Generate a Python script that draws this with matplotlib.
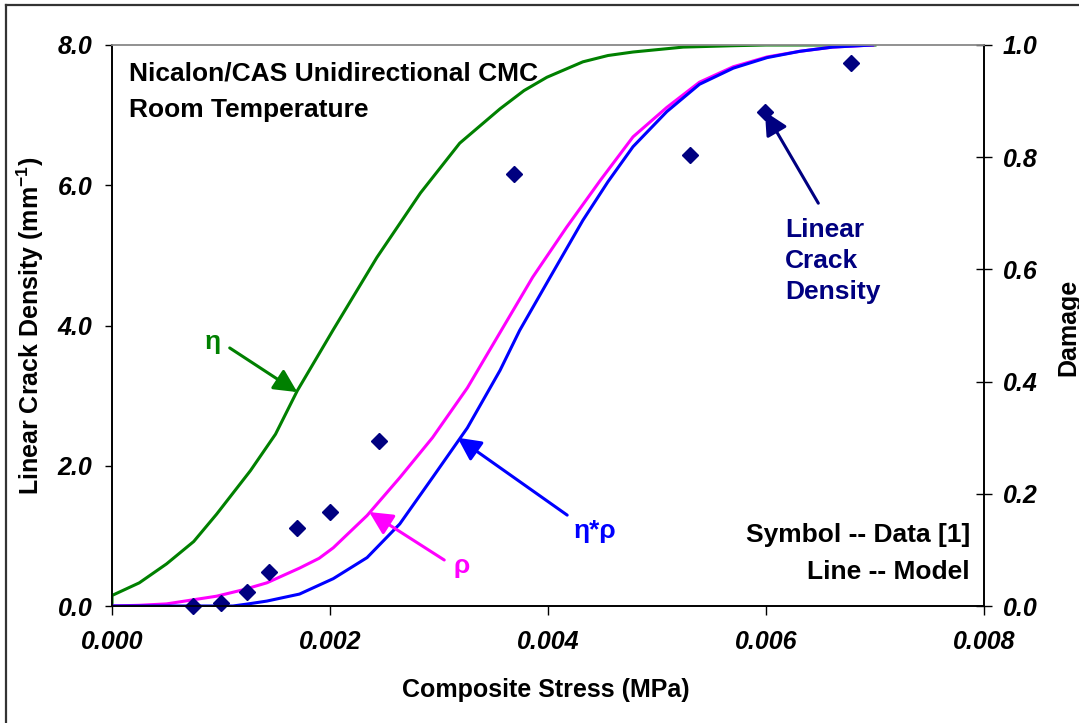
"""Crack density and damage vs composite stress, Nicalon/CAS unidirectional CMC."""
import matplotlib
matplotlib.use('Agg')
import matplotlib.pyplot as plt
from matplotlib.lines import Line2D

FONT = 'Liberation Sans'
plt.rcParams['mathtext.default'] = 'regular'

# measured data (symbols)
data_stress = [0.00074, 0.00100, 0.00124, 0.00144, 0.00170, 0.00200,
               0.00245, 0.00369, 0.00530, 0.00599, 0.00678]
data_density = [0.00, 0.04, 0.20, 0.48, 1.11, 1.34, 2.35, 6.16, 6.43, 7.05, 7.75]

# model curves, plotted on the crack density scale (8.0 <-> damage 1.0)
eta_stress = [0.0, 0.0, 0.00025, 0.00050, 0.00075, 0.00096, 0.00127, 0.00150,
              0.00170, 0.00203, 0.00243, 0.00283, 0.00319, 0.00356, 0.00378,
              0.00399, 0.00432, 0.00455, 0.00478, 0.00524, 0.00570, 0.00600,
              0.00631, 0.00700]
eta_value = [0.0, 0.15, 0.33, 0.60, 0.92, 1.31, 1.93, 2.45, 3.07, 3.94, 4.97,
             5.89, 6.60, 7.09, 7.35, 7.54, 7.76, 7.85, 7.90, 7.97, 7.99, 8.00,
             8.00, 8.00]

rho_stress = [0.0, 0.00025, 0.00050, 0.00096, 0.00120, 0.00142, 0.00172,
              0.00190, 0.00203, 0.00234, 0.00264, 0.00294, 0.00326, 0.00356,
              0.00386, 0.00417, 0.00448, 0.00478, 0.00509, 0.00539, 0.00570,
              0.00601, 0.00631, 0.00661, 0.00698]
rho_value = [0.0, 0.01, 0.03, 0.14, 0.23, 0.33, 0.54, 0.68, 0.83, 1.29, 1.83,
             2.40, 3.11, 3.90, 4.69, 5.40, 6.07, 6.69, 7.11, 7.47, 7.69, 7.83,
             7.91, 7.97, 8.00]

etarho_stress = [0.0, 0.00060, 0.00111, 0.00125, 0.00142, 0.00172, 0.00203,
                 0.00234, 0.00264, 0.00294, 0.00326, 0.00356, 0.00374, 0.00402,
                 0.00432, 0.00455, 0.00478, 0.00509, 0.00539, 0.00570, 0.00601,
                 0.00631, 0.00661, 0.00698]
etarho_value = [0.0, 0.0, 0.0, 0.03, 0.07, 0.17, 0.39, 0.69, 1.17, 1.83, 2.54,
                3.36, 3.93, 4.69, 5.50, 6.05, 6.55, 7.05, 7.44, 7.67, 7.82,
                7.91, 7.97, 8.00]

x_ticks = [0.000, 0.002, 0.004, 0.006, 0.008]
left_ticks = [0.0, 2.0, 4.0, 6.0, 8.0]
right_ticks = [0.0, 0.2, 0.4, 0.6, 0.8, 1.0]

GREEN = '#008000'
MAGENTA = '#FF00FF'
BLUE = '#0000FF'
NAVY = '#000080'

W, H = 1079, 723


def main() -> None:
    fig = plt.figure(figsize=(W / 100, H / 100), dpi=100)
    ax = fig.add_axes([112 / W, 1 - 606 / H, 872 / W, 561 / H])
    ax2 = ax.twinx()

    ax.plot(eta_stress, eta_value, color=GREEN, lw=2.2, zorder=3)
    ax.plot(rho_stress, rho_value, color=MAGENTA, lw=2.2, zorder=3)
    ax.plot(etarho_stress, etarho_value, color=BLUE, lw=2.2, zorder=4)
    ax.plot(data_stress, data_density, ls='none', marker='D', ms=8,
            color=NAVY, zorder=5, clip_on=False)

    ax.set_xlim(0, 0.008)
    ax.set_ylim(0, 8)
    ax2.set_ylim(0, 1)
    ax.set_xticks(x_ticks)
    ax.set_xticklabels([f'{v:.3f}' for v in x_ticks])
    ax.set_yticks(left_ticks)
    ax.set_yticklabels([f'{v:.1f}' for v in left_ticks])
    ax2.set_yticks(right_ticks)
    ax2.set_yticklabels([f'{v:.1f}' for v in right_ticks])

    tick_font = dict(family=FONT, weight='bold', style='italic', size=18)
    for lab in ax.get_xticklabels() + ax.get_yticklabels() + ax2.get_yticklabels():
        lab.set_fontproperties(tick_font)

    ax.tick_params(axis='x', direction='out', length=6.5, width=1, pad=11)
    ax.tick_params(axis='y', direction='out', length=5, width=1, pad=9)
    ax2.tick_params(axis='y', direction='inout', length=11, width=1, pad=8)

    for a in (ax, ax2):
        for side in ('left', 'bottom', 'right'):
            a.spines[side].set_color('black')
            a.spines[side].set_linewidth(1.2)
        a.spines['top'].set_color('#909090')
        a.spines['top'].set_linewidth(1.2)

    # axis titles placed by their centres
    label_font = dict(family=FONT, weight='bold', size=18)
    fig.text(546 / W, 1 - 690 / H, 'Composite Stress (MPa)',
             ha='center', va='center', **label_font)
    fig.text(30 / W, 1 - 326 / H, 'Linear Crack Density (mm$^{-1}$)',
             rotation=90, ha='center', va='center', **label_font)
    fig.text(1068 / W, 1 - 327 / H, 'Damage',
             rotation=90, ha='center', va='center', **label_font)

    note_font = dict(family=FONT, weight='bold', size=19)
    ax.text(0.0195, 0.950, 'Nicalon/CAS Unidirectional CMC', transform=ax.transAxes,
            ha='left', va='center', **note_font)
    ax.text(0.0195, 0.884, 'Room Temperature', transform=ax.transAxes,
            ha='left', va='center', **note_font)
    ax.text(0.984, 0.127, 'Symbol -- Data [1]', transform=ax.transAxes,
            ha='right', va='center', **note_font)
    ax.text(0.984, 0.061, 'Line -- Model', transform=ax.transAxes,
            ha='right', va='center', **note_font)

    # curve labels with arrows
    arrow_style = '-|>,head_length=0.7,head_width=0.35'
    callouts = [
        ('\u03b7', GREEN, (0.116, 0.471), (0.135, 0.460), (0.00170, 3.05)),
        ('\u03c1', MAGENTA, (0.401, 0.071), (0.381, 0.082), (0.00236, 1.34)),
        ('\u03b7*\u03c1', BLUE, (0.554, 0.134), (0.522, 0.162), (0.00317, 2.40)),
    ]
    for text, color, text_pos, start, tip in callouts:
        ax.text(*text_pos, text, transform=ax.transAxes, ha='center', va='center',
                color=color, **note_font)
        ax.annotate('', xy=tip, xycoords='data', xytext=start,
                    textcoords='axes fraction',
                    arrowprops=dict(arrowstyle=arrow_style, color=color,
                                    lw=2.2, mutation_scale=20,
                                    shrinkA=0, shrinkB=0), zorder=6)

    ax.text(0.772, 0.615, 'Linear\nCrack\nDensity', transform=ax.transAxes,
            ha='left', va='center', color=NAVY, linespacing=1.35, **note_font)
    ax.annotate('', xy=(0.00599, 7.05), xycoords='data', xytext=(0.810, 0.718),
                textcoords='axes fraction',
                arrowprops=dict(arrowstyle=arrow_style, color=NAVY, lw=2.2,
                                mutation_scale=20, shrinkA=0, shrinkB=0), zorder=6)

    # outer frame lines (left and top only)
    fig.add_artist(Line2D([6 / W, 6 / W], [0, 1 - 5 / H],
                          transform=fig.transFigure, color='#333333', lw=1.6))
    fig.add_artist(Line2D([6 / W, 1], [1 - 5 / H, 1 - 5 / H],
                          transform=fig.transFigure, color='#333333', lw=1.6))

    fig.savefig('out.png', dpi=100)
    plt.close(fig)


if __name__ == '__main__':
    main()
